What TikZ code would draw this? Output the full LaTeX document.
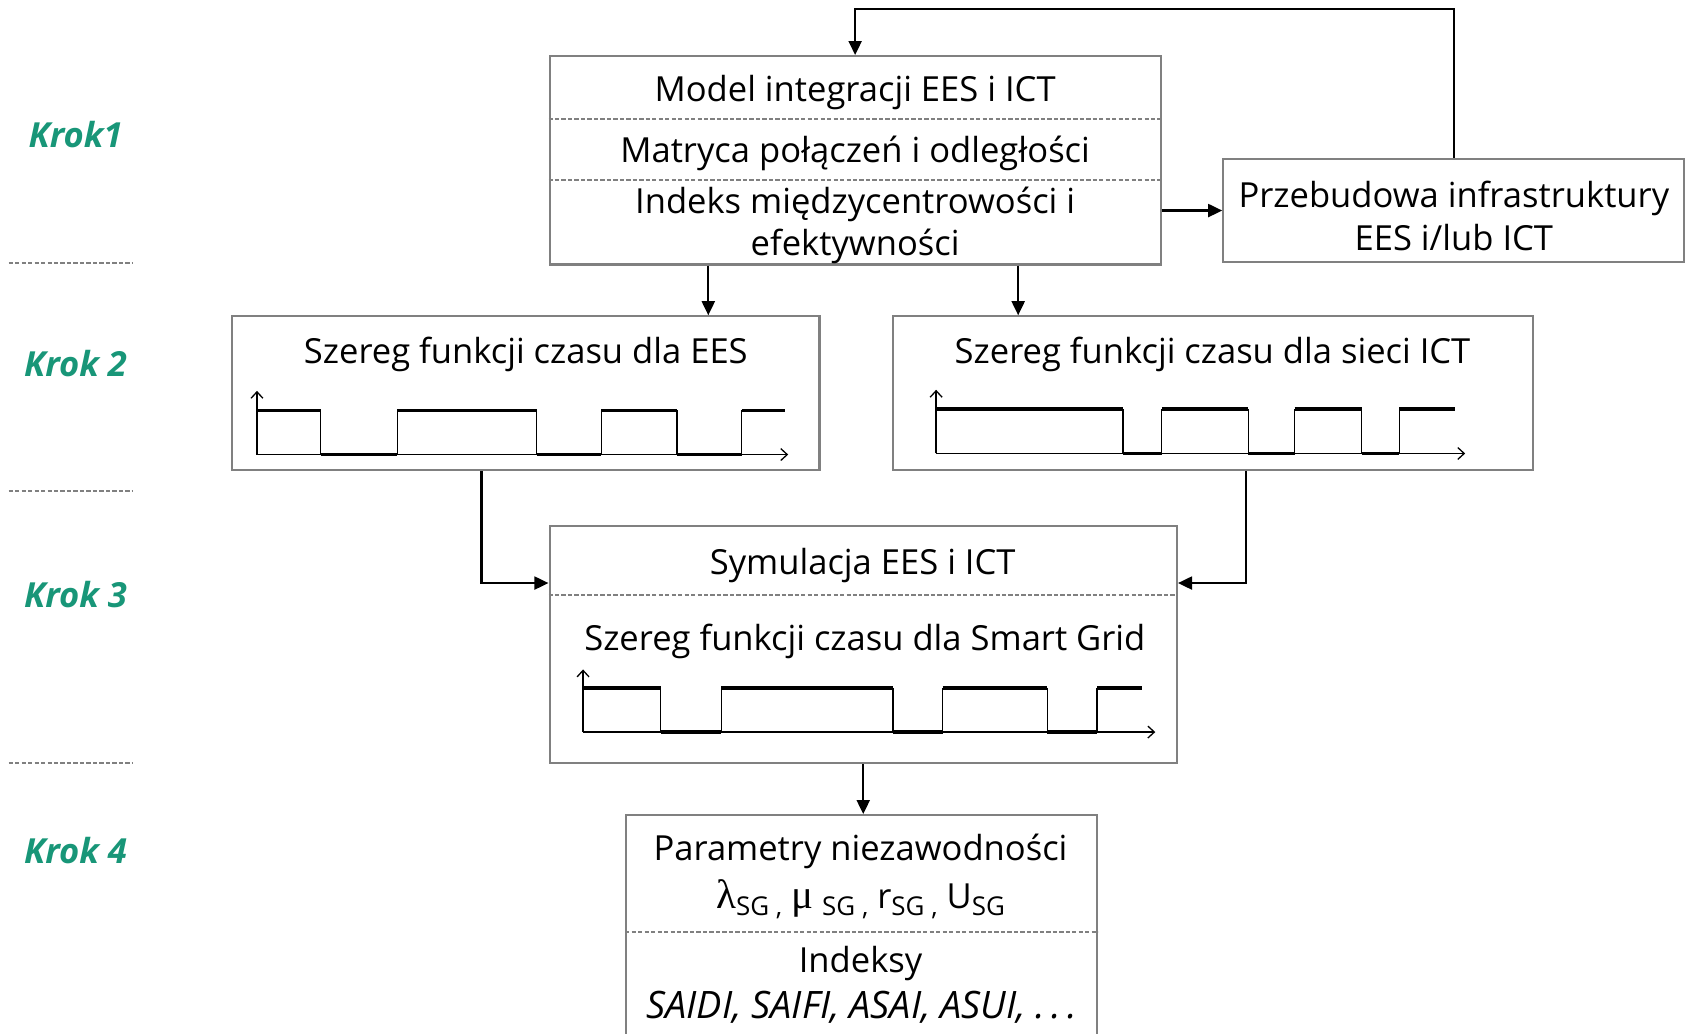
\documentclass[tikz,border=0pt]{standalone}
\usepackage{fontspec}
\setmainfont{Open Sans}
\newfontfamily\greekfont{Liberation Serif}
\usetikzlibrary{arrows.meta}
\definecolor{krokgreen}{RGB}{24,150,120}
\definecolor{boxgray}{RGB}{128,128,128}
\newcommand{\sgsub}[1]{\raisebox{-0.35ex}{\fontsize{12}{12}\selectfont #1}}
\newcommand{\grk}[1]{{\greekfont\fontsize{19}{19}\selectfont #1}}

\begin{document}
\begin{tikzpicture}[x=0.5pt,y=-0.5pt, font=\fontsize{16}{19.5}\selectfont,
 box/.style={draw=boxgray, line width=1pt, inner sep=0pt},
 sep/.style={draw=boxgray, dash pattern=on 2pt off 1pt, line width=0.9pt},
 conn/.style={-{Triangle[length=6.5pt,width=6pt]}, line width=1pt},
 axis/.style={-{Straight Barb[length=3pt,width=5.5pt]}, line width=0.6pt},
 wv/.style={line width=0.6pt}, hi/.style={line width=1.6pt},
 krok/.style={text=krokgreen, font=\fontsize{16}{19}\selectfont\bfseries\itshape}]
\useasboundingbox (0,0) rectangle (1568,957);
\clip (0,0) rectangle (1568,957);
%steps on the left
\foreach \y/\t [count=\k] in {125/Krok1,337/Krok 2,551/Krok 3,788/Krok 4}{\node[krok] (krok\k) at (70,\y) {\t};}
\foreach \y in {244,455,707}{\draw[sep] (8,\y) -- (123,\y);}
%boxes
\node[box, minimum width=283pt, minimum height=96.5pt] (model) at (792,148.5) {};
\node[box, minimum width=213.5pt, minimum height=48pt] (rebuild) at (1346.5,195) {};
\node[box, minimum width=272pt, minimum height=71pt] (ees) at (487,364) {};
\node[box, minimum width=296.5pt, minimum height=71pt] (ict) at (1123.5,364) {};
\node[box, minimum width=290.5pt, minimum height=110pt] (sim) at (799.5,597) {};
\node[box, minimum width=218pt, minimum height=117.5pt] (param) at (798,872.5) {};
%texts in the boxes
\node (model1) at (792,86) {Model integracji EES i ICT};
\node (model2) at (792,142) {Matryca połączeń i odległości};
\node[align=center] (model3) at (792,209) {Indeks międzycentrowości i\\efektywności};
\node[align=center] (rebuildtxt) at (1346.5,200) {Przebudowa infrastruktury\\EES i/lub ICT};
\node (eestitle) at (487,328) {Szereg funkcji czasu dla EES};
\node (icttitle) at (1123,328) {Szereg funkcji czasu dla sieci ICT};
\node (simtitle) at (799,524) {Symulacja EES i ICT};
\node (simwave) at (801,594) {Szereg funkcji czasu dla Smart Grid};
\node (param1) at (797,789) {Parametry niezawodności};
\node (param2) at (797,833) {\grk{λ}\sgsub{SG ,} \grk{μ} \sgsub{SG ,} r\sgsub{SG ,} U\sgsub{SG}};
\node (param3) at (797,892) {Indeksy};
\node[font=\fontsize{17.5}{20}\selectfont\itshape] (param4) at (798,933) {SAIDI, SAIFI, ASAI, ASUI, .\,.\,.};
%dashed dividers
\draw[sep] (model.west |- 0,110) -- (model.east |- 0,110);
\draw[sep] (model.west |- 0,167) -- (model.east |- 0,167);
\draw[sep] (sim.west |- 0,551) -- (sim.east |- 0,551);
\draw[sep] (param.west |- 0,863) -- (param.east |- 0,863);
%connectors
\coordinate (loop) at (792,8);
\draw[conn] (model.east |- rebuild.west) -- (rebuild.west);
\draw[conn] (rebuild.north) |- (loop) -- (model.north);
\draw[conn] (model.south -| 656,0) -- (ees.north -| 656,0);
\draw[conn] (model.south -| 943,0) -- (ict.north -| 943,0);
\draw[conn] (ees.south -| 446,0) |- (sim.west |- 0,540);
\draw[conn] (ict.south -| 1154,0) |- (sim.east |- 0,540);
\draw[conn] (sim.south) -- (sim.south |- param.north);
%time series for EES
\draw[axis] (238,421) -- (238,362);
\draw[axis] (238,421) -- (730,421);
\foreach \a/\b in {238/297,368/497,557/627,687/727}{\draw[hi] (\a,380) -- (\b,380);}
\foreach \a/\b in {297/368,497/557,627/687}{\draw[hi] (\a,421) -- (\b,421);}
\foreach \a in {297,368,497,557,627,687}{\draw[wv] (\a,380) -- (\a,421);}
%time series for ICT
\draw[axis] (867,420) -- (867,361);
\draw[axis] (867,420) -- (1357,420);
\foreach \a/\b in {867/1040,1076/1156,1199/1261,1296/1348}{\draw[hi] (\a,379) -- (\b,379);}
\foreach \a/\b in {1040/1076,1156/1199,1261/1296}{\draw[hi] (\a,420) -- (\b,420);}
\foreach \a in {1040,1076,1156,1199,1261,1296}{\draw[wv] (\a,379) -- (\a,420);}
%time series for Smart Grid
\draw[axis] (540,678) -- (540,620);
\draw[axis] (540,678) -- (1070,678);
\foreach \a/\b in {540/612,668/827,873/970,1016/1058}{\draw[hi] (\a,637) -- (\b,637);}
\foreach \a/\b in {612/668,827/873,970/1016}{\draw[hi] (\a,678) -- (\b,678);}
\foreach \a in {612,668,827,873,970,1016}{\draw[wv] (\a,637) -- (\a,678);}
\end{tikzpicture}
\end{document}
